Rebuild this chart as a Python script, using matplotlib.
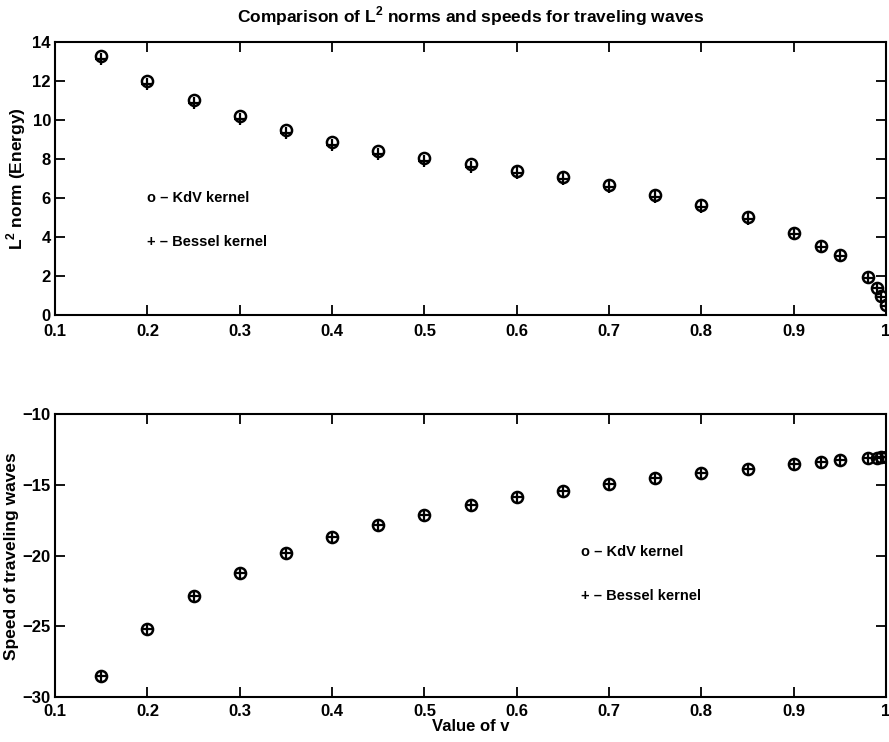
import matplotlib
matplotlib.use("Agg")
import matplotlib.pyplot as plt

plt.rcParams['font.family'] = ['Liberation Sans', 'DejaVu Sans']
plt.rcParams['font.weight'] = 'bold'
plt.rcParams['axes.titleweight'] = 'bold'
plt.rcParams['axes.labelweight'] = 'bold'
plt.rcParams['mathtext.fontset'] = 'custom'
plt.rcParams['mathtext.rm'] = 'Liberation Sans:bold'

# values of v
v = [0.15, 0.2, 0.25, 0.3, 0.35, 0.4, 0.45, 0.5, 0.55, 0.6, 0.65, 0.7,
     0.75, 0.8, 0.85, 0.9, 0.93, 0.95, 0.98, 0.99, 0.995, 1.0]

# L2 norms (energy)
norm_kdv = [13.3, 12.0, 11.0, 10.2, 9.5, 8.87, 8.4, 8.05, 7.72, 7.38, 7.05, 6.65,
            6.15, 5.62, 5.0, 4.2, 3.55, 3.05, 1.95, 1.4, 0.95, 0.5]
norm_bessel = [13.15, 11.85, 10.85, 10.05, 9.35, 8.72, 8.27, 7.92, 7.6, 7.27, 6.95, 6.55,
               6.07, 5.55, 4.93, 4.15, 3.5, 3.0, 1.92, 1.38, 0.93, 0.48]

# speeds of traveling waves
speed_kdv = [-28.5, -25.2, -22.85, -21.2, -19.8, -18.7, -17.8, -17.1, -16.4, -15.85, -15.4, -14.93,
             -14.5, -14.16, -13.85, -13.5, -13.37, -13.25, -13.1, -13.07, -13.05, -13.03]
speed_bessel = [-28.5, -25.2, -22.85, -21.2, -19.8, -18.7, -17.8, -17.1, -16.4, -15.85, -15.4, -14.93,
                -14.5, -14.16, -13.85, -13.5, -13.37, -13.25, -13.1, -13.07, -13.05, -13.03]

xticks = [0.1, 0.2, 0.3, 0.4, 0.5, 0.6, 0.7, 0.8, 0.9, 1.0]
xticklabels = ['0.1', '0.2', '0.3', '0.4', '0.5', '0.6', '0.7', '0.8', '0.9', '1']

fig = plt.figure(figsize=(8.89, 7.42), dpi=100)
ax1 = fig.add_axes([0.062, 0.5755, 0.9346, 0.368])
ax2 = fig.add_axes([0.062, 0.0606, 0.9346, 0.381])


def style(ax, xpad):
    ax.set_xlim(0.1, 1.0)
    ax.set_xticks(xticks)
    ax.set_xticklabels(xticklabels)
    ax.tick_params(direction='in', top=True, right=True, length=7, width=1.3,
                   labelsize=12, pad=3)
    ax.tick_params(axis='x', pad=xpad)
    for s in ax.spines.values():
        s.set_linewidth(1.5)


ax1.plot(v, norm_kdv, 'o', mfc='none', mec='black', ms=8, mew=1.8)
ax1.plot(v, norm_bessel, '+', color='black', ms=9, mew=1.6)
style(ax1, 6.5)
ax1.set_ylim(0, 14)
ax1.set_yticks([0, 2, 4, 6, 8, 10, 12, 14])
ax1.set_ylabel('L$^2$ norm (Energy)', fontsize=12.5, labelpad=3)
ax1.set_title('Comparison of L$^2$ norms and speeds for traveling waves',
              fontsize=12.5, pad=14)
ax1.text(0.2, 6.0, 'o \u2013 KdV kernel', fontsize=10.5, va='center')
ax1.text(0.2, 3.75, '+ \u2013 Bessel kernel', fontsize=10.5, va='center')

ax2.plot(v, speed_kdv, 'o', mfc='none', mec='black', ms=8, mew=1.8)
ax2.plot(v, speed_bessel, '+', color='black', ms=9, mew=1.6)
style(ax2, 5)
ax2.set_ylim(-30, -10)
ax2.set_yticks([-30, -25, -20, -15, -10])
ax2.set_yticklabels(['\u221230', '\u221225', '\u221220', '\u221215', '\u221210'])
ax2.set_ylabel('Speed of traveling waves', fontsize=12.5, labelpad=3)
ax2.set_xlabel('Value of v', fontsize=12, labelpad=0)
ax2.text(0.67, -19.75, 'o \u2013 KdV kernel', fontsize=10.5, va='center')
ax2.text(0.67, -22.85, '+ \u2013 Bessel kernel', fontsize=10.5, va='center')

fig.savefig('out.png', dpi=100)
